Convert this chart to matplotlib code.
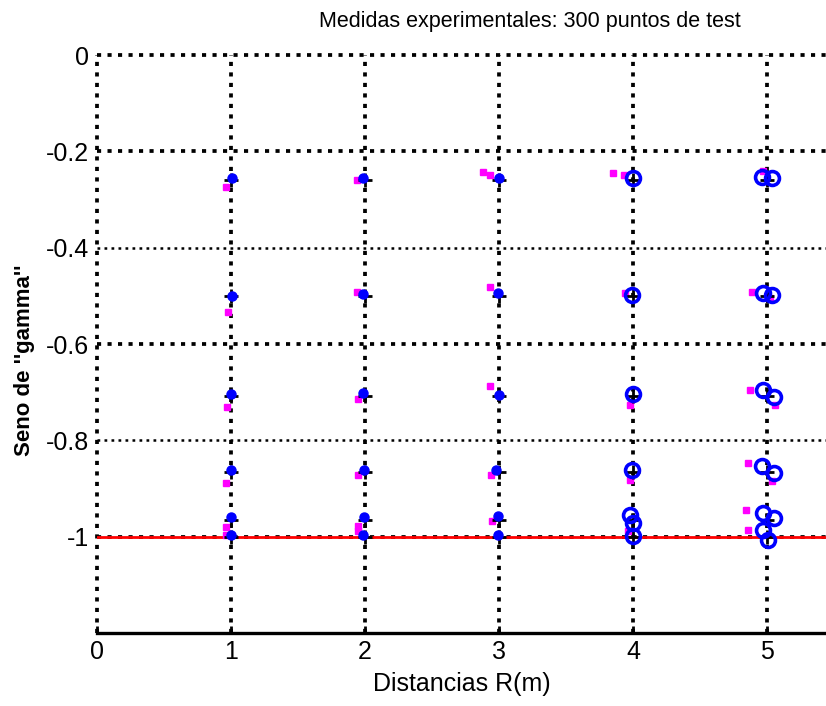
import matplotlib
matplotlib.use("Agg")
import matplotlib.pyplot as plt

plt.rcParams['font.family'] = ['Liberation Sans', 'DejaVu Sans']

# true test positions (distance R, sine of gamma)
R_true = [1, 2, 3, 4, 5]
sin_true = [-0.259, -0.5, -0.707, -0.866, -0.966, -1.0]

# blue estimates, close range (R = 1..3)
blue_near_x = [1.007, 1.007, 1.000, 1.000, 1.000, 1.000,
               1.985, 1.985, 1.985, 1.990, 1.990, 1.985,
               3.000, 2.990, 3.000, 2.980, 2.990, 2.990]
blue_near_y = [-0.256, -0.500, -0.704, -0.862, -0.959, -0.996,
               -0.256, -0.496, -0.702, -0.861, -0.959, -0.996,
               -0.256, -0.494, -0.705, -0.861, -0.957, -0.996]

# blue estimates, far range (R = 4, 5)
blue_far_x = [4.00, 3.99, 4.00, 3.99, 3.98, 4.00, 4.00,
              4.96, 5.04, 4.97, 5.04, 4.97, 5.05, 4.96, 5.05, 4.97, 5.05, 4.97, 5.01]
blue_far_y = [-0.256, -0.498, -0.704, -0.862, -0.954, -0.972, -0.998,
              -0.254, -0.256, -0.494, -0.498, -0.696, -0.709, -0.853, -0.868,
              -0.950, -0.961, -0.986, -1.006]

# magenta estimates
mag_x = [0.963, 0.978, 0.970, 0.963, 0.963, 0.963,
         1.940, 1.940, 1.950, 1.950, 1.950, 1.950,
         2.880, 2.930, 2.930, 2.940, 2.950, 2.930,
         3.850, 3.930, 3.940, 3.980, 3.980, 3.960,
         4.970, 4.890, 5.020, 4.870, 5.060, 4.860, 5.040, 4.840, 4.860]
mag_y = [-0.273, -0.533, -0.730, -0.888, -0.980, -0.996,
         -0.260, -0.492, -0.715, -0.872, -0.977, -0.988,
         -0.243, -0.481, -0.688, -0.872, -0.967, -0.250,
         -0.244, -0.250, -0.494, -0.727, -0.882, -0.988,
         -0.240, -0.492, -0.504, -0.696, -0.727, -0.847, -0.884, -0.944, -0.986]

x_ticks = [0, 1, 2, 3, 4, 5]
y_ticks = [0, -0.2, -0.4, -0.6, -0.8, -1]
y_tick_labels = ['0', '-0.2', '-0.4', '-0.6', '-0.8', '-1']

fig = plt.figure(figsize=(8.26, 7.06), dpi=100)
ax = fig.add_axes([0.1174, 0.1034, 0.8826, 0.8186])

ax.set_xlim(0, 5.44)
ax.set_ylim(-1.2, 0)

# dotted grid
dot = (0, (1.1, 1.7))
for xv in x_ticks:
    ax.axvline(xv, color='black', lw=2.7, ls=dot, zorder=1, clip_on=False)
for yv in y_ticks:
    w = 1.8 if yv in (-0.4, -0.8) else 2.7
    ax.axhline(yv, color='black', lw=w, ls=dot, zorder=1, clip_on=False)

ax.axhline(-1, color='red', lw=2.0, zorder=2)

tx = [r for r in R_true for s in sin_true]
ty = [s for r in R_true for s in sin_true]

ax.plot(mag_x, mag_y, 's', color='magenta', ms=5, mec='magenta', zorder=3)
ax.plot(tx, ty, '+', color='black', ms=10, mew=2, zorder=4)
ax.plot(blue_near_x, blue_near_y, 'o', color='blue', ms=6.5, mec='blue', zorder=5)
ax.plot(blue_far_x, blue_far_y, 'o', mfc='none', mec='blue', ms=10, mew=2.6, zorder=5)

ax.spines['left'].set_visible(False)
ax.spines['top'].set_visible(False)
ax.spines['right'].set_visible(False)
ax.spines['bottom'].set_linewidth(2.4)
ax.spines['bottom'].set_zorder(6)

ax.set_xticks(x_ticks)
ax.set_yticks(y_ticks)
ax.set_yticklabels(y_tick_labels)
ax.tick_params(axis='x', direction='in', length=5, width=2, labelsize=18, pad=5)
ax.tick_params(axis='y', direction='in', length=0, labelsize=18, pad=6)

fig.text(0.642, 0.969, 'Medidas experimentales: 300 puntos de test',
         fontsize=15.5, ha='center', va='center')
ax.set_xlabel('Distancias R(m)', fontsize=18, labelpad=6)
fig.text(0.030, 0.49, "Seno de ''gamma''", fontsize=16, fontweight='bold',
         rotation=90, ha='center', va='center')

fig.savefig('out.png', dpi=100)
